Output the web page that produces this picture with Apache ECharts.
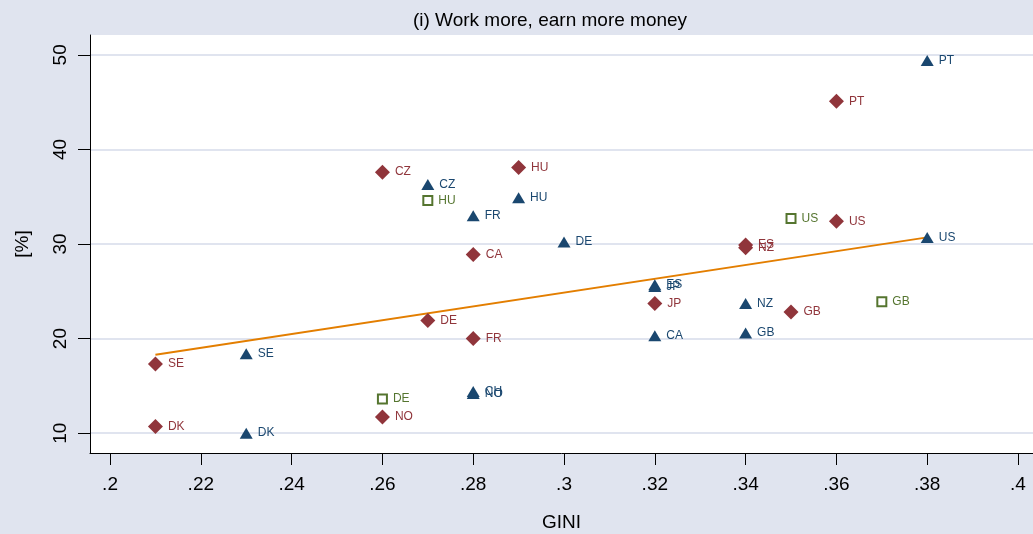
<!DOCTYPE html>
<html>
<head>
<meta charset="utf-8">
<script src="https://cdn.jsdelivr.net/npm/echarts@6/dist/echarts.min.js"></script>
<style>
  html, body { margin: 0; padding: 0; background: #e0e4ef; }
  #chart { width: 1033px; height: 534px; }
</style>
</head>
<body>
<div id="chart"></div>
<script>
// blue triangles
var blueCodes = ['PT', 'US', 'CZ', 'HU', 'FR', 'DE', 'ES', 'JP', 'NZ', 'GB', 'CA', 'SE', 'CH', 'NO', 'DK'];
var blueGini  = [0.38, 0.38, 0.27, 0.29, 0.28, 0.30, 0.32, 0.32, 0.34, 0.34, 0.32, 0.23, 0.28, 0.28, 0.23];
var bluePct   = [49.4, 30.7, 36.3, 34.9, 33.0, 30.2, 25.7, 25.5, 23.7, 20.6, 20.3, 18.4, 14.4, 14.2, 10.0];

// red diamonds
var redCodes = ['PT', 'HU', 'CZ', 'US', 'ES', 'NZ', 'CA', 'JP', 'GB', 'DE', 'FR', 'SE', 'NO', 'DK'];
var redGini  = [0.36, 0.29, 0.26, 0.36, 0.34, 0.34, 0.28, 0.32, 0.35, 0.27, 0.28, 0.21, 0.26, 0.21];
var redPct   = [45.1, 38.1, 37.6, 32.4, 29.9, 29.6, 28.9, 23.7, 22.8, 21.9, 20.0, 17.3, 11.7, 10.7];

// green hollow squares
var greenCodes = ['HU', 'US', 'GB', 'DE'];
var greenGini  = [0.27, 0.35, 0.37, 0.26];
var greenPct   = [34.6, 32.7, 23.9, 13.6];

// linear fit end points
var fitGini = [0.21, 0.38];
var fitPct  = [18.3, 30.7];

var xTicks = [0.2, 0.22, 0.24, 0.26, 0.28, 0.3, 0.32, 0.34, 0.36, 0.38, 0.4];
var yTicks = [10, 20, 30, 40, 50];

var FONT = "'Liberation Sans', Arial, sans-serif";

function pts(codes, xs, ys) {
    var out = [];
    for (var i = 0; i < codes.length; i++) {
        out.push({ value: [xs[i], ys[i]], name: codes[i] });
    }
    return out;
}

function fmtGini(v) {
    return String(+v.toFixed(2)).replace(/^0/, '');
}

function markerSeries(name, data, symbol, size, color, fill) {
    return {
        name: name,
        type: 'scatter',
        symbol: symbol,
        symbolSize: size,
        data: data,
        itemStyle: {
            color: fill || color,
            borderColor: color,
            borderWidth: fill ? 2 : 0,
            opacity: 1
        },
        label: {
            show: true,
            position: 'right',
            distance: 5,
            formatter: '{b}',
            color: color,
            fontSize: 12,
            fontFamily: FONT
        },
        emphasis: { disabled: true },
        z: 3
    };
}

var myChart = echarts.init(document.getElementById('chart'));
myChart.setOption({
    backgroundColor: '#e0e4ef',
    animation: false,
    title: {
        text: '(i) Work more, earn more money',
        left: 545,
        top: 6,
        textAlign: 'center',
        textStyle: { fontSize: 19, fontWeight: 'normal', color: '#000', fontFamily: FONT }
    },
    grid: {
        left: 90, right: 0, top: 35, bottom: 81,
        outerBoundsMode: 'none',
        containLabel: false,
        show: true, backgroundColor: '#fff', borderWidth: 0
    },
    xAxis: {
        type: 'value',
        min: 0.19559,
        max: 0.4033,
        name: 'GINI',
        nameLocation: 'middle',
        nameGap: 60,
        nameTextStyle: { fontSize: 19, color: '#000', fontFamily: FONT },
        axisLine: { show: true, lineStyle: { color: '#000', width: 1 } },
        axisTick: { show: true, length: 12, customValues: xTicks, lineStyle: { color: '#000' } },
        axisLabel: {
            customValues: xTicks,
            formatter: fmtGini,
            margin: 22,
            fontSize: 19,
            color: '#000',
            fontFamily: FONT
        },
        splitLine: { show: false }
    },
    yAxis: {
        type: 'value',
        min: 7.9,
        max: 52.1,
        name: '[%]',
        nameLocation: 'middle',
        nameGap: 58,
        nameRotate: 90,
        nameTextStyle: { fontSize: 19, color: '#000', fontFamily: FONT },
        axisLine: { show: true, lineStyle: { color: '#000', width: 1 } },
        axisTick: { show: true, length: 12, customValues: yTicks, lineStyle: { color: '#000' } },
        axisLabel: {
            customValues: yTicks,
            rotate: 90,
            margin: 20,
            fontSize: 19,
            color: '#000',
            fontFamily: FONT
        },
        splitLine: { show: true, lineStyle: { color: '#e0e4ef', width: 2 } }
    },
    series: [
        {
            name: 'fit',
            type: 'line',
            data: fitGini.map(function (g, i) { return [g, fitPct[i]]; }),
            symbol: 'none',
            lineStyle: { color: '#e37e00', width: 2 },
            emphasis: { disabled: true },
            z: 2
        },
        markerSeries('red', pts(redCodes, redGini, redPct), 'diamond', [15, 15], '#90353b'),
        markerSeries('blue', pts(blueCodes, blueGini, bluePct), 'triangle', [13, 11], '#1a476f'),
        markerSeries('green', pts(greenCodes, greenGini, greenPct), 'rect', [9, 9], '#55752f', '#fff')
    ]
});
</script>
</body>
</html>
